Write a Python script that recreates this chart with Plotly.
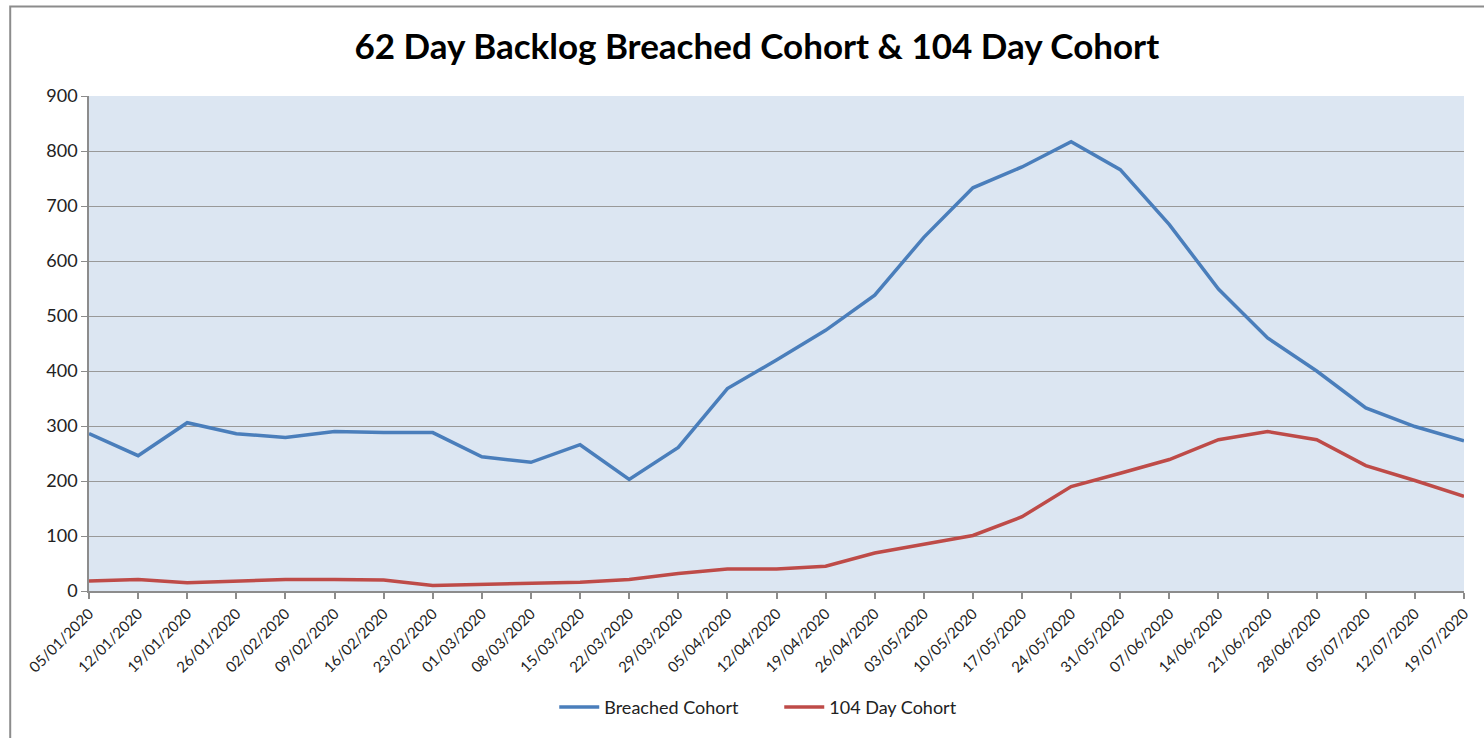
import plotly.graph_objects as go

weeks = [
    "05/01/2020", "12/01/2020", "19/01/2020", "26/01/2020", "02/02/2020",
    "09/02/2020", "16/02/2020", "23/02/2020", "01/03/2020", "08/03/2020",
    "15/03/2020", "22/03/2020", "29/03/2020", "05/04/2020", "12/04/2020",
    "19/04/2020", "26/04/2020", "03/05/2020", "10/05/2020", "17/05/2020",
    "24/05/2020", "31/05/2020", "07/06/2020", "14/06/2020", "21/06/2020",
    "28/06/2020", "05/07/2020", "12/07/2020", "19/07/2020",
]

breached_cohort = [
    286, 246, 306, 286, 279, 290, 288, 288, 244, 234,
    266, 203, 261, 368, 420, 474, 538, 643, 733, 771,
    817, 766, 666, 549, 460, 400, 333, 299, 273,
]

day104_cohort = [
    18, 21, 15, 18, 21, 21, 20, 10, 12, 14,
    16, 21, 32, 40, 40, 45, 69, 85, 101, 135,
    190, 214, 239, 275, 290, 275, 228, 201, 172,
]

y_ticks = [0, 100, 200, 300, 400, 500, 600, 700, 800, 900]

FONT = "Lato"

fig = go.Figure()
fig.add_trace(go.Scatter(
    x=weeks, y=breached_cohort, mode="lines", name="Breached Cohort",
    line=dict(color="#4A7EBB", width=3.5),
))
fig.add_trace(go.Scatter(
    x=weeks, y=day104_cohort, mode="lines", name="104 Day Cohort",
    line=dict(color="#BE4B48", width=3.5),
))

# outer chart frame
fig.add_shape(type="rect", xref="paper", yref="paper",
              x0=-0.0573, x1=1.03, y0=-0.32, y1=1.181,
              line=dict(color="#8C8C8C", width=2), layer="below")

fig.update_layout(
    width=1484, height=738,
    margin=dict(l=89, r=17, t=96, b=145),
    paper_bgcolor="white",
    plot_bgcolor="#DCE6F2",
    font=dict(family=FONT, color="#222222"),
    title=dict(text="<b>62 Day Backlog Breached Cohort & 104 Day Cohort</b>",
               x=0.51, xanchor="center", y=0.936, yanchor="middle",
               font=dict(family=FONT, size=35, color="#000000")),
    showlegend=True,
    legend=dict(orientation="h", x=0.502, xanchor="center", y=-0.235, yanchor="middle",
                font=dict(family=FONT, size=18, color="#222222"),
                entrywidth=170, itemwidth=40,
                bgcolor="rgba(0,0,0,0)"),
    xaxis=dict(
        type="category", range=[0, len(weeks) - 1],
        tickangle=-45, tickfont=dict(family=FONT, size=15, color="#222222"),
        showgrid=False, showline=True, linecolor="#8C8C8C", linewidth=2,
        ticks="outside", ticklen=6, tickcolor="#8C8C8C", tickwidth=1.5,
    ),
    yaxis=dict(
        range=[0, 900], tickvals=y_ticks,
        tickfont=dict(family=FONT, size=18, color="#222222"),
        showgrid=True, gridcolor="#999999", gridwidth=1.2,
        showline=True, linecolor="#8C8C8C", linewidth=1.5,
        ticks="outside", ticklen=6, tickcolor="#8C8C8C",
        zeroline=False,
    ),
)

fig.write_html("out.html")
